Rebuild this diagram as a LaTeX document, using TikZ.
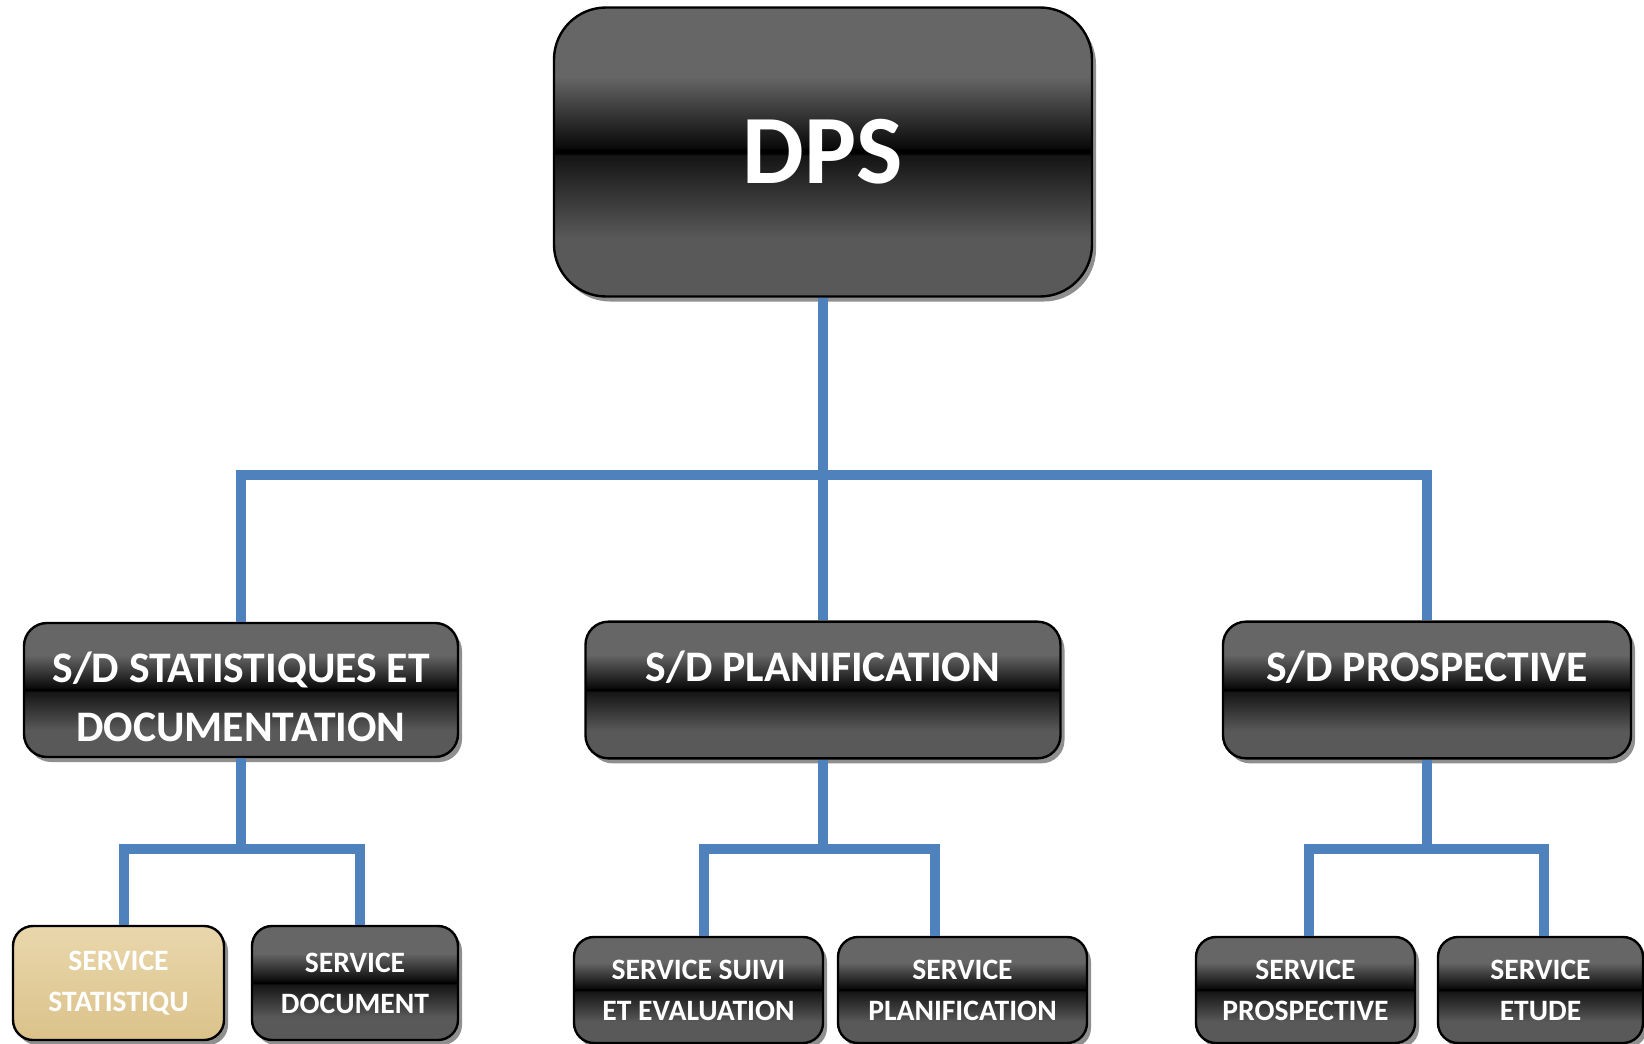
\documentclass[tikz,border=0pt]{standalone}
\usepackage{fontspec}
\setmainfont{Carlito}
\usetikzlibrary{shadows}
\definecolor{linkblue}{RGB}{79,129,189}
\definecolor{parchtop}{RGB}{233,215,172}
\definecolor{parchbot}{RGB}{219,194,138}
\pgfdeclareverticalshading{gloss}{100bp}{color(0bp)=(black!65); color(35bp)=(black!65); color(49.4bp)=(black!92); color(49.8bp)=(black); color(50.4bp)=(black); color(50.8bp)=(black!96); color(63bp)=(black!60); color(100bp)=(black!60)}
\begin{document}
\begin{tikzpicture}[x=0.5pt,y=-0.5pt,line join=miter,
  unit/.style={draw=black,line width=1.2pt,inner sep=0pt,align=center,text=white,font=\bfseries,
    shading=gloss,drop shadow={shadow xshift=2pt,shadow yshift=-2.5pt,fill=black!55,opacity=0.8}},
  top/.style={unit,rounded corners=26pt,minimum width=269pt,minimum height=144.5pt},
  sub/.style={unit,rounded corners=11.5pt,minimum height=67pt,font=\bfseries\fontsize{21.8}{29.5}\selectfont},
  svc/.style={unit,rounded corners=10pt,font=\bfseries\fontsize{14.8}{20.5}\selectfont},
  link/.style={draw=linkblue,line width=4.7pt}]
\useasboundingbox (0,0) rectangle (1644,1044);

\node[top,font=\bfseries\fontsize{49}{59}\selectfont] (dps) at (823,152) {DPS};

\node[sub,minimum width=217pt] (sdstat) at (241,690) {\rule{0pt}{22pt}S/D STATISTIQUES ET\\DOCUMENTATION};
\node[sub,minimum width=237.5pt] (sdplan) at (823,690) {\rule{0pt}{30pt}S/D PLANIFICATION\\\strut};
\node[sub,minimum width=204pt] (sdprosp) at (1427,690) {\rule{0pt}{30pt}S/D PROSPECTIVE\\\strut};

\node[svc,minimum width=105.5pt,minimum height=57pt,top color=parchtop,bottom color=parchbot] (svcstat) at (118.5,983) {SERVICE\\STATISTIQU};
\node[svc,minimum width=103pt,minimum height=57pt] (svcdoc) at (355,983) {SERVICE\\DOCUMENT};
\node[svc,minimum width=124.5pt,minimum height=53pt] (svcsuivi) at (698.5,990) {SERVICE SUIVI\\ET EVALUATION};
\node[svc,minimum width=124.5pt,minimum height=53pt] (svcplan) at (962.5,990) {SERVICE\\PLANIFICATION};
\node[svc,minimum width=109.5pt,minimum height=53pt] (svcprosp) at (1305.5,990) {SERVICE\\PROSPECTIVE};
\node[svc,minimum width=102.5pt,minimum height=53pt] (svcetude) at (1540.5,990) {SERVICE\\ETUDE};

\coordinate (bar) at (822,475);
\coordinate (kstat) at (124,849);
\coordinate (kdoc) at (360,849);
\coordinate (ksuivi) at (704,849);
\coordinate (kplan) at (935,849);
\coordinate (kprosp) at (1309,849);
\coordinate (ketude) at (1544,849);

\draw[link] (dps.south) -- (sdplan.north);
\draw[link] (sdstat.north) |- (bar) -| (sdprosp.north);

\draw[link] (sdstat.south) -- (sdstat.south |- kdoc);
\draw[link] (kstat |- svcstat.north) |- (kdoc) -- (kdoc |- svcdoc.north);
\draw[link] (sdplan.south) -- (sdplan.south |- kplan);
\draw[link] (ksuivi |- svcsuivi.north) |- (kplan) -- (kplan |- svcplan.north);
\draw[link] (sdprosp.south) -- (sdprosp.south |- ketude);
\draw[link] (kprosp |- svcprosp.north) |- (ketude) -- (ketude |- svcetude.north);
\end{tikzpicture}
\end{document}
